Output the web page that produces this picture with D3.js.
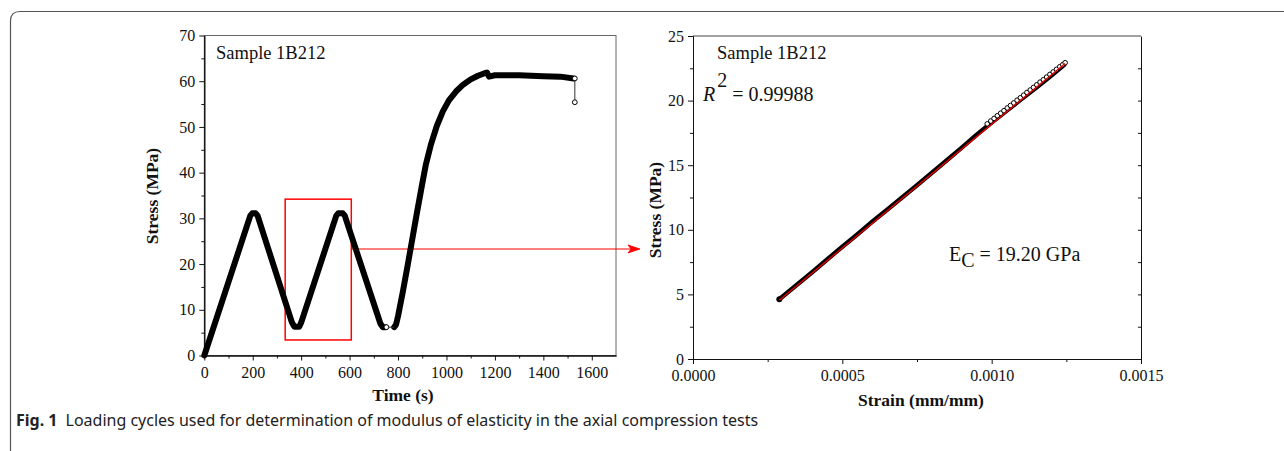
<!DOCTYPE html>
<html>
<head>
<meta charset="utf-8">
<script src="https://cdn.jsdelivr.net/npm/d3@7"></script>
<style>
    body { margin: 0; background: #fff; }
    svg { display: block; }
    .tick text { font-family: 'Liberation Serif', serif; font-size: 16px; fill: #111; }
    .axis path, .axis line { stroke: #111; }
    .axis-label { font-family: 'Liberation Serif', serif; font-weight: bold; font-size: 17.5px; fill: #111; }
    .note { font-family: 'Liberation Serif', serif; font-size: 18.5px; fill: #111; }
    .note-big { font-family: 'Liberation Serif', serif; font-size: 20px; fill: #111; }
    .caption { font-family: 'Noto Sans', sans-serif; font-size: 16px; fill: #222; }
</style>
</head>
<body>
<div id="chart"></div>
<script>
// left panel: loading cycles, time (s) vs stress (MPa)
const cycleTime = [0, 190, 198, 212, 220, 362, 372, 392, 400, 545, 553, 572, 580, 727, 737, 748]
const cycleStress = [0, 30.6, 31.1, 31.1, 30.6, 7.2, 6.3, 6.3, 7.2, 30.6, 31.1, 31.1, 30.6, 7.0, 6.2, 6.2]
const finalTime = [784, 792, 800, 820, 840, 860, 880, 900, 915, 935, 960, 985, 1010, 1040, 1070, 1100, 1130, 1160, 1167, 1176, 1200, 1300, 1400, 1470, 1525]
const finalStress = [6.2, 6.8, 8.6, 14.0, 19.8, 25.8, 31.8, 37.6, 41.8, 46.0, 50.2, 53.4, 55.8, 57.8, 59.3, 60.4, 61.2, 61.8, 61.9, 61.0, 61.3, 61.3, 61.1, 61.0, 60.6]
// sparse points drawn as open markers, joined by thin lines
const gapTime = [752, 784]
const gapStress = [6.2, 6.2]
const failTime = [1530, 1530]
const failStress = [60.6, 55.4]
const timeTicks = [0, 200, 400, 600, 800, 1000, 1200, 1400, 1600]
const stressTicksL = [0, 10, 20, 30, 40, 50, 60, 70]
// zoom box (time range, stress range) and arrow level
const boxTime = [334, 607]
const boxStress = [3.4, 34.2]
const arrowStress = 23.3

// right panel: stress vs strain of the boxed cycle
const bandStrain = [0.000289, 0.00035, 0.0004, 0.00045, 0.0005, 0.00055, 0.0006, 0.00065, 0.0007, 0.00075, 0.0008, 0.00085, 0.0009, 0.00095, 0.001, 0.00105, 0.0011, 0.00115, 0.0012, 0.001243]
const bandStress = [4.62, 5.78, 6.74, 7.72, 8.69, 9.64, 10.62, 11.56, 12.5, 13.45, 14.42, 15.38, 16.36, 17.36, 18.3, 19.22, 20.12, 21.02, 21.95, 22.78]
const openStrain = [0.000985, 0.000997, 0.001008, 0.001019, 0.00103, 0.001041, 0.001052, 0.001063, 0.001074, 0.001085, 0.001096, 0.001107, 0.001118, 0.001129, 0.00114, 0.001151, 0.001162, 0.001173, 0.001184, 0.001195, 0.001206, 0.001217, 0.001228, 0.001238, 0.001246]
const openStress = [18.2, 18.42, 18.62, 18.83, 19.02, 19.22, 19.43, 19.62, 19.82, 20.03, 20.22, 20.42, 20.63, 20.82, 21.02, 21.22, 21.43, 21.62, 21.82, 22.03, 22.22, 22.42, 22.62, 22.78, 22.93]
const fitStrain = [0.000289, 0.001246]
const fitStress = [4.55, 22.88]
const strainTicks = [0, 0.0005, 0.001, 0.0015]
const stressTicksR = [0, 5, 10, 15, 20, 25]

const zip = (a, b) => a.map((v, i) => [v, b[i]])

const svg = d3.select('#chart').append('svg')
    .attr('width', 1284)
    .attr('height', 451)

// figure frame (only top and left edges are in view)
svg.append('path')
    .attr('d', 'M10.5,451 V21 Q10.5,11.5 20,11.5 H1284')
    .attr('fill', 'none')
    .attr('stroke', '#555')
    .attr('stroke-width', 1.2)

// ---------- left panel ----------
const xL = d3.scaleLinear().domain([0, 1700]).range([204.3, 616])
const yL = d3.scaleLinear().domain([0, 70]).range([355.5, 35.5])
const lineL = d3.line().x(d => xL(d[0])).y(d => yL(d[1]))

const left = svg.append('g')

left.append('rect')
    .attr('x', xL(0)).attr('y', yL(70))
    .attr('width', xL(1700) - xL(0)).attr('height', yL(0) - yL(70))
    .attr('fill', 'none').attr('stroke', '#666').attr('stroke-width', 1)

left.append('g')
    .attr('class', 'axis')
    .attr('transform', `translate(0,${yL(0)})`)
    .call(d3.axisBottom(xL).tickValues(d3.range(100, 1700, 200)).tickSize(3).tickSizeOuter(0).tickFormat(''))
left.append('g')
    .attr('class', 'axis')
    .attr('transform', `translate(0,${yL(0)})`)
    .call(d3.axisBottom(xL).tickValues(timeTicks).tickSize(5).tickPadding(6).tickSizeOuter(0).tickFormat(d3.format('d')))

left.append('g')
    .attr('class', 'axis')
    .attr('transform', `translate(${xL(0)},0)`)
    .call(d3.axisLeft(yL).tickValues(d3.range(5, 70, 10)).tickSize(3).tickSizeOuter(0).tickFormat(''))
left.append('g')
    .attr('class', 'axis')
    .attr('transform', `translate(${xL(0)},0)`)
    .call(d3.axisLeft(yL).tickValues(stressTicksL).tickSize(5).tickPadding(4).tickSizeOuter(0).tickFormat(d3.format('d')))

// zoom box and arrow to the right panel
left.append('rect')
    .attr('x', xL(boxTime[0])).attr('y', yL(boxStress[1]))
    .attr('width', xL(boxTime[1]) - xL(boxTime[0]))
    .attr('height', yL(boxStress[0]) - yL(boxStress[1]))
    .attr('fill', 'none').attr('stroke', '#f00').attr('stroke-width', 1.5)

const arrowY = yL(arrowStress)
const arrowEnd = 640
left.append('line')
    .attr('x1', xL(boxTime[1])).attr('x2', arrowEnd - 4)
    .attr('y1', arrowY).attr('y2', arrowY)
    .attr('stroke', '#f00').attr('stroke-width', 1.2)
left.append('path')
    .attr('d', `M${arrowEnd},${arrowY} L${arrowEnd - 12},${arrowY - 4} L${arrowEnd - 9},${arrowY} L${arrowEnd - 12},${arrowY + 4} Z`)
    .attr('fill', '#f00').attr('stroke', '#f00').attr('stroke-width', 0.8)

// stress history
;[zip(cycleTime, cycleStress), zip(finalTime, finalStress)].forEach(seg => {
    left.append('path')
        .attr('d', lineL(seg))
        .attr('fill', 'none')
        .attr('stroke', '#000')
        .attr('stroke-width', 6)
        .attr('stroke-linejoin', 'round')
        .attr('stroke-linecap', 'round')
})
;[zip(gapTime, gapStress), zip(failTime, failStress)].forEach(seg => {
    left.append('path')
        .attr('d', lineL(seg))
        .attr('fill', 'none').attr('stroke', '#333').attr('stroke-width', 1)
    left.append('circle')
        .attr('cx', xL(seg[0][0])).attr('cy', yL(seg[0][1])).attr('r', 2.4)
        .attr('fill', '#fff').attr('stroke', '#000').attr('stroke-width', 1)
})
left.append('circle')
    .attr('cx', xL(failTime[1])).attr('cy', yL(failStress[1])).attr('r', 2.4)
    .attr('fill', '#fff').attr('stroke', '#000').attr('stroke-width', 1)

left.append('text')
    .attr('class', 'note')
    .attr('x', 216).attr('y', 59)
    .text('Sample 1B212')

left.append('text')
    .attr('class', 'axis-label')
    .attr('text-anchor', 'middle')
    .attr('transform', 'translate(158,196) rotate(-90)')
    .text('Stress (MPa)')
left.append('text')
    .attr('class', 'axis-label')
    .attr('text-anchor', 'middle')
    .attr('x', 403).attr('y', 401)
    .text('Time (s)')

// ---------- right panel ----------
const xR = d3.scaleLinear().domain([0, 0.0015]).range([693, 1141])
const yR = d3.scaleLinear().domain([0, 25]).range([359, 36])
const lineR = d3.line().x(d => xR(d[0])).y(d => yR(d[1]))

const right = svg.append('g')

right.append('line')
    .attr('x1', xR(0)).attr('x2', xR(0.0015))
    .attr('y1', yR(25)).attr('y2', yR(25))
    .attr('stroke', '#444').attr('stroke-width', 1)

right.append('g')
    .attr('class', 'axis')
    .attr('transform', `translate(0,${yR(0)})`)
    .call(d3.axisBottom(xR).tickValues([0.00025, 0.00075, 0.00125]).tickSize(3).tickSizeOuter(0).tickFormat(''))
right.append('g')
    .attr('class', 'axis')
    .attr('transform', `translate(0,${yR(0)})`)
    .call(d3.axisBottom(xR).tickValues(strainTicks).tickSize(5).tickPadding(6).tickSizeOuter(0).tickFormat(d3.format('.4f')))

right.append('g')
    .attr('class', 'axis')
    .attr('transform', `translate(${xR(0)},0)`)
    .call(d3.axisLeft(yR).tickValues([2.5, 7.5, 12.5, 17.5, 22.5]).tickSize(3).tickSizeOuter(0).tickFormat(''))
right.append('g')
    .attr('class', 'axis')
    .attr('transform', `translate(${xR(0)},0)`)
    .call(d3.axisLeft(yR).tickValues(stressTicksR).tickSize(5).tickPadding(4).tickSizeOuter(0).tickFormat(d3.format('d')))

// mirrored axis on the right, ticks pointing in
right.append('g')
    .attr('class', 'axis')
    .attr('transform', `translate(${xR(0.0015)},0)`)
    .call(d3.axisRight(yR).tickValues(d3.range(2.5, 25, 2.5)).tickSize(-3).tickSizeOuter(0).tickFormat(''))

// measured points: dense part reads as a solid band
right.append('path')
    .attr('d', lineR(zip(bandStrain, bandStress)))
    .attr('fill', 'none')
    .attr('stroke', '#000')
    .attr('stroke-width', 4.5)
    .attr('stroke-linejoin', 'round')
    .attr('stroke-linecap', 'round')

right.append('circle')
    .attr('cx', xR(bandStrain[0])).attr('cy', yR(bandStress[0])).attr('r', 3)
    .attr('fill', '#000')

right.selectAll('.open-pt')
    .data(zip(openStrain, openStress))
    .join('circle')
    .attr('class', 'open-pt')
    .attr('cx', d => xR(d[0]))
    .attr('cy', d => yR(d[1]))
    .attr('r', 2.3)
    .attr('fill', '#fff')
    .attr('stroke', '#000')
    .attr('stroke-width', 1)

// linear fit
right.append('path')
    .attr('d', lineR(zip(fitStrain, fitStress)))
    .attr('fill', 'none')
    .attr('stroke', '#e00')
    .attr('stroke-width', 1.3)

right.append('text')
    .attr('class', 'note')
    .attr('x', 717).attr('y', 59)
    .text('Sample 1B212')

const r2 = right.append('text')
    .attr('class', 'note-big')
    .attr('x', 703).attr('y', 101)
r2.append('tspan').style('font-style', 'italic').text('R')
r2.append('tspan').attr('dy', -14).attr('dx', 2).text('2')
r2.append('tspan').attr('dy', 14).text(' = 0.99988')

const ec = right.append('text')
    .attr('class', 'note-big')
    .attr('x', 949).attr('y', 261)
ec.append('tspan').text('E')
ec.append('tspan').attr('dy', 6).text('C')
ec.append('tspan').attr('dy', -6).text(' = 19.20 GPa')

right.append('text')
    .attr('class', 'axis-label')
    .attr('text-anchor', 'middle')
    .attr('transform', 'translate(661,210) rotate(-90)')
    .text('Stress (MPa)')
right.append('text')
    .attr('class', 'axis-label')
    .attr('text-anchor', 'middle')
    .attr('x', 921).attr('y', 406)
    .text('Strain (mm/mm)')

// ---------- caption ----------
const cap = svg.append('text')
    .attr('class', 'caption')
    .attr('x', 16).attr('y', 426)
cap.append('tspan').style('font-weight', 'bold').text('Fig. 1')
cap.append('tspan').attr('dx', 8).text('Loading cycles used for determination of modulus of elasticity in the axial compression tests')
</script>
</body>
</html>
